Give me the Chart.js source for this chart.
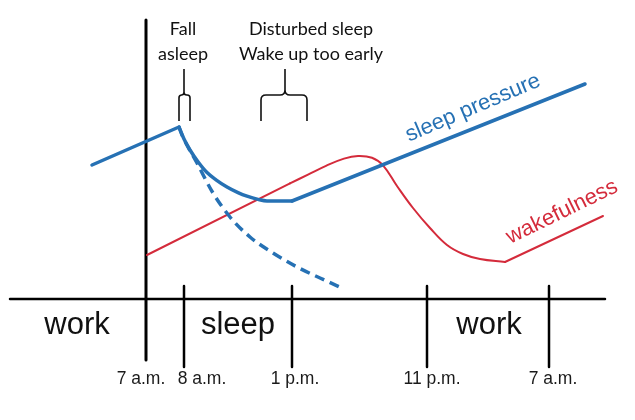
<!DOCTYPE html>
<html>
<head>
<meta charset="utf-8">
<script src="https://cdn.jsdelivr.net/npm/chart.js@4.4.1/dist/chart.umd.min.js"></script>
<style>
  html, body { margin: 0; padding: 0; background: #fff; }
</style>
</head>
<body>
<canvas id="myChart" width="635" height="420"></canvas>
<script>
// schematic time axis: 7 a.m. = 0, level 0 = the time line
const tickPos = [0, 9.5, 36.5, 70.25, 100.75];
const tickLabels = ['7 a.m.', '8 a.m.', '1 p.m.', '11 p.m.', '7 a.m.'];
const labelPos = [-1.25, 14, 37.25, 71.5, 101.75];

const periods = ['work', 'sleep', 'work'];
const periodPos = [-17.25, 23, 85.75];

// sleep pressure (blue)
const pressureRiseX = [-13.5, 8.25];
const pressureRiseY = [33.5, 43];
const pressureDecayX = [8.25, 9.5, 11, 13, 15.25, 17.5, 20.25, 23, 25.25, 28, 30.25, 36.5];
const pressureDecayY = [43, 40, 37.25, 34.3, 31.6, 29.8, 28, 26.6, 25.7, 24.9, 24.5, 24.5];
const pressureClimbX = [36.5, 109.75];
const pressureClimbY = [24.5, 53.75];
// normal decay of sleep pressure (dashed)
const normalDecayX = [8.25, 9, 12.75, 16.75, 21, 26, 31.75, 37.75, 43.5, 49.5];
const normalDecayY = [43, 41, 34, 26.5, 20.5, 15.5, 11.5, 8, 5.25, 2.5];

// wakefulness (red)
const wakeRiseX = [0.25, 36];
const wakeRiseY = [11, 28.9];
const wakeCurveX = [36, 40.5, 45, 49.5, 53, 56.5, 59.25, 62.75, 66.75, 71, 75.25, 79.25, 83.5, 89.75];
const wakeCurveY = [28.9, 31.1, 33.3, 35.1, 35.75, 35.3, 33.4, 28.25, 22.75, 17.75, 13.5, 11.25, 10, 9.25];
const wakeEndX = [89.75, 114.25];
const wakeEndY = [9.25, 20.75];

// annotations above the curves
const noteLines = [['Fall', 'asleep'], ['Disturbed sleep', 'Wake up too early']];
const notePos = [9.25, 41.25];
const braceFrom = [8.25, 28.75];
const braceTo = [11, 40.25];
const braceStem = [9.5, 34.75];

const pts = (xs, ys) => xs.map((x, i) => ({ x: x, y: ys[i] }));

const BLUE = '#2671B4';
const RED = '#D42B3B';

function curve(xs, ys, color, width, smooth, dash) {
    return {
        data: pts(xs, ys),
        borderColor: color,
        borderWidth: width,
        borderDash: dash || [],
        borderCapStyle: dash ? 'butt' : 'round',
        borderJoinStyle: 'round',
        pointRadius: 0,
        fill: false,
        tension: smooth ? 0.4 : 0,
        cubicInterpolationMode: smooth === 'mono' ? 'monotone' : 'default'
    };
}

const datasets = [
    curve(pressureRiseX, pressureRiseY, BLUE, 3.5, false),
    curve(pressureDecayX, pressureDecayY, BLUE, 3.5, 'mono'),
    curve(pressureClimbX, pressureClimbY, BLUE, 3.5, false),
    curve(normalDecayX, normalDecayY, BLUE, 3.5, 'mono', [10, 6]),
    curve(wakeRiseX, wakeRiseY, RED, 2, false),
    curve(wakeCurveX, wakeCurveY, RED, 2, true),
    curve(wakeEndX, wakeEndY, RED, 2, false),
    // time line and ticks
    curve([-34, 114.75], [0, 0], '#000', 2.5, false),
    curve([0, 0], [69.75, -15.25], '#000', 3, false)
];
tickPos.slice(1).forEach(p => {
    datasets.push(curve([p, p], [3.25, -17], '#000', 2.5, false));
});

const textPlugin = {
    id: 'schemaText',
    afterDatasetsDraw(chart) {
        const ctx = chart.ctx;
        const xs = chart.scales.x, ys = chart.scales.y;
        const px = v => xs.getPixelForValue(v);
        const py = v => ys.getPixelForValue(v);
        ctx.save();

        // braces
        ctx.strokeStyle = '#111';
        ctx.lineWidth = 1.6;
        braceFrom.forEach((a, i) => {
            const l = px(a), r = px(braceTo[i]), m = px(braceStem[i]);
            const top = py(57.5), mid = py(51), bot = py(44.5);
            const rad = Math.min(5, (r - l) / 4);
            ctx.beginPath();
            ctx.moveTo(l, bot);
            ctx.lineTo(l, mid + rad);
            ctx.quadraticCurveTo(l, mid, l + rad, mid);
            ctx.lineTo(m - rad, mid);
            ctx.quadraticCurveTo(m, mid, m, mid - rad);
            ctx.lineTo(m, top);
            ctx.moveTo(m, mid - rad);
            ctx.quadraticCurveTo(m, mid, m + rad, mid);
            ctx.lineTo(r - rad, mid);
            ctx.quadraticCurveTo(r, mid, r, mid + rad);
            ctx.lineTo(r, bot);
            ctx.stroke();
        });

        // notes
        ctx.fillStyle = '#111';
        ctx.textAlign = 'center';
        ctx.textBaseline = 'alphabetic';
        ctx.font = '18px Lato, "Open Sans", sans-serif';
        noteLines.forEach((lines, i) => {
            ctx.fillText(lines[0], px(notePos[i]), py(66));
            ctx.fillText(lines[1], px(notePos[i]), py(59.75));
        });

        // period names
        ctx.textBaseline = 'middle';
        ctx.font = '31px "Liberation Sans", Arial, sans-serif';
        periods.forEach((p, i) => ctx.fillText(p, px(periodPos[i]), py(-6.5)));

        // clock labels
        ctx.fillStyle = '#1a1a1a';
        ctx.font = '17.5px "Liberation Sans", Arial, sans-serif';
        tickLabels.forEach((t, i) => ctx.fillText(t, px(labelPos[i]), py(-20)));

        // rotated curve names
        ctx.font = '22px "Liberation Sans", Arial, sans-serif';
        ctx.fillStyle = BLUE;
        ctx.save();
        ctx.translate(px(81.75), py(47.75));
        ctx.rotate(-23 * Math.PI / 180);
        ctx.fillText('sleep pressure', 0, 0);
        ctx.restore();
        ctx.fillStyle = RED;
        ctx.save();
        ctx.translate(px(104), py(21.75));
        ctx.rotate(-26 * Math.PI / 180);
        ctx.fillText('wakefulness', 0, 0);
        ctx.restore();

        ctx.restore();
    }
};

new Chart(document.getElementById('myChart'), {
    type: 'line',
    data: { datasets: datasets },
    options: {
        responsive: false,
        animation: false,
        layout: { padding: 0 },
        plugins: { legend: { display: false }, tooltip: { enabled: false } },
        scales: {
            x: { type: 'linear', display: false, min: -36.5, max: 122.25 },
            y: { type: 'linear', display: false, min: -30.25, max: 74.75 }
        }
    },
    plugins: [textPlugin]
});
</script>
</body>
</html>
